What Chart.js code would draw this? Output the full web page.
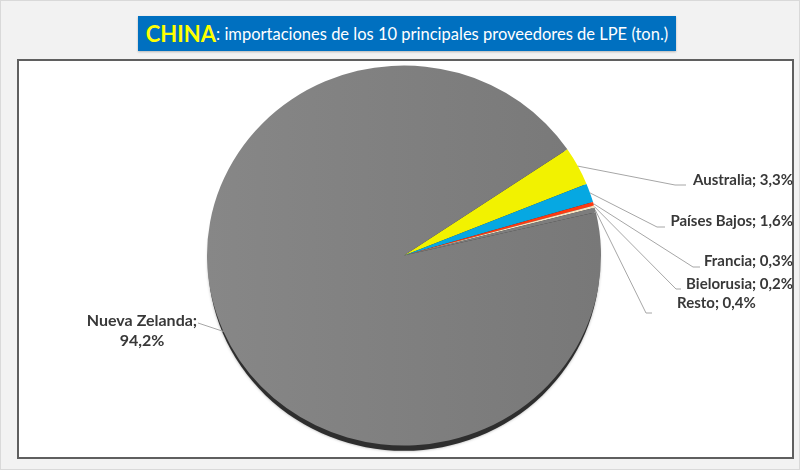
<!DOCTYPE html>
<html><head><meta charset="utf-8">
<script src="https://cdn.jsdelivr.net/npm/chart.js@4.4.0/dist/chart.umd.min.js"></script>
<style>
html,body{margin:0;padding:0;}
body{width:800px;height:470px;background:#f2f2f2;position:relative;overflow:hidden;font-family:Lato,"Open Sans",sans-serif;}
#frame{position:absolute;left:0;top:0;width:798px;height:468px;border:1px solid #d9d9d9;}
#plot{position:absolute;left:17px;top:59px;width:773px;height:396px;background:#fff;border:2px solid #5f5f5f;}
#title{position:absolute;left:138px;top:16px;width:538px;height:35px;background:#0070c0;box-shadow:0 1px 2px rgba(0,0,0,.25);display:flex;align-items:center;justify-content:center;white-space:nowrap;}
#title b{color:#ffff00;font-size:22px;font-weight:700;}
#title span{color:#fff;font-size:16.5px;}
canvas{position:absolute;left:0;top:0;}
</style></head><body>
<div id="frame"></div><div id="plot"></div>
<div id="title"><b>CHINA</b><span>: importaciones de los 10 principales proveedores de LPE (ton.)</span></div>
<canvas id="c" width="800" height="470" style="width:800px;height:470px"></canvas>
<script>
// ---- data ----
const categories = ["Australia", "Países Bajos", "Francia", "Bielorusia", "Resto", "Nueva Zelanda"];
const shares = [3.3, 1.6, 0.3, 0.2, 0.4, 94.2];
const sliceColors = ["#f2f200", "#06a8e2", "#ff3a12", "#f5e3c0", "#7d7d7d", "#7f7f7f"];

// ---- label layout (annotation placement) ----
const labelLayout = [
  {tx: 793, ty: 180, align: "right", ex: 675, ey: 185, hx: 686},
  {tx: 793, ty: 221, align: "right", ex: 657, ey: 227, hx: 665},
  {tx: 793, ty: 261, align: "right", ex: 693, ey: 267, hx: 700},
  {tx: 793, ty: 284, align: "right", ex: 676, ey: 289, hx: 681},
  {tx: 677, ty: 303, align: "left",  ex: 646, ey: 313, hx: 652},
  {tx: 142, ty: 321, align: "center", twoLines: true, ex: 198, ey: 323, hx: 198}
];
const SQUASH = 190 / 197;

function fmt(v){ return v.toFixed(1).replace('.', ',') + '%'; }

const squashPlugin = {
  id: 'squash',
  beforeDatasetsDraw(chart){
    const arc = chart.getDatasetMeta(0).data[0];
    if(!arc) return;
    const {x, y, outerRadius} = arc.getProps(['x','y','outerRadius'], true);
    const ctx = chart.ctx;
    ctx.save();
    ctx.translate(x, y); ctx.scale(1, SQUASH); ctx.translate(-x, -y);
    ctx.save();
    ctx.beginPath();
    ctx.ellipse(x, y + 5.5, outerRadius - 1, outerRadius, 0, 0, Math.PI * 2);
    ctx.fillStyle = '#2e2e2e';
    ctx.shadowColor = 'rgba(0,0,0,0.35)';
    ctx.shadowBlur = 3;
    ctx.fill();
    ctx.restore();
  },
  afterDatasetsDraw(chart){
    chart.ctx.restore();
    const ctx = chart.ctx;
    const meta = chart.getDatasetMeta(0);
    ctx.save();
    meta.data.forEach((arc, i) => {
      const L = labelLayout[i];
      if(!L) return;
      const p = arc.getProps(['x','y','startAngle','endAngle','outerRadius'], true);
      const mid = (p.startAngle + p.endAngle) / 2;
      const px = p.x + Math.cos(mid) * p.outerRadius;
      const py = p.y + Math.sin(mid) * p.outerRadius * SQUASH;
      ctx.beginPath();
      ctx.strokeStyle = '#a6a6a6';
      ctx.lineWidth = 1;
      ctx.moveTo(px, py);
      ctx.lineTo(L.ex, L.ey);
      ctx.lineTo(L.hx, L.ey);
      ctx.stroke();
      ctx.fillStyle = '#383838';
      ctx.textAlign = L.align;
      ctx.textBaseline = 'middle';
      if(L.twoLines){
        ctx.font = 'bold 16px Lato, "Open Sans", sans-serif';
        ctx.fillText(categories[i] + ';', L.tx, L.ty);
        ctx.fillText(fmt(shares[i]), L.tx, L.ty + 20);
      } else {
        ctx.font = 'bold 15px Lato, "Open Sans", sans-serif';
        ctx.fillText(categories[i] + '; ' + fmt(shares[i]), L.tx, L.ty);
      }
    });
    ctx.restore();
  }
};

new Chart(document.getElementById('c'), {
  type: 'pie',
  data: {
    labels: categories,
    datasets: [{
      data: shares,
      radius: 197,
      borderWidth: 0,
      backgroundColor: (c) => {
        const i = c.dataIndex;
        if(i === shares.length - 1 && c.chart.chartArea){
          const a = c.chart.chartArea;
          const cx = (a.left + a.right) / 2;
          const g = c.chart.ctx.createLinearGradient(cx - 197, 0, cx + 197, 0);
          g.addColorStop(0, '#878787');
          g.addColorStop(1, '#787878');
          return g;
        }
        return sliceColors[i];
      }
    }]
  },
  options: {
    responsive: false,
    animation: false,
    rotation: 56,
    layout: {padding: {left: 8, right: 0, top: 41, bottom: 0}},
    plugins: {legend: {display: false}, tooltip: {enabled: false}}
  },
  plugins: [squashPlugin]
});
</script>
</body></html>
